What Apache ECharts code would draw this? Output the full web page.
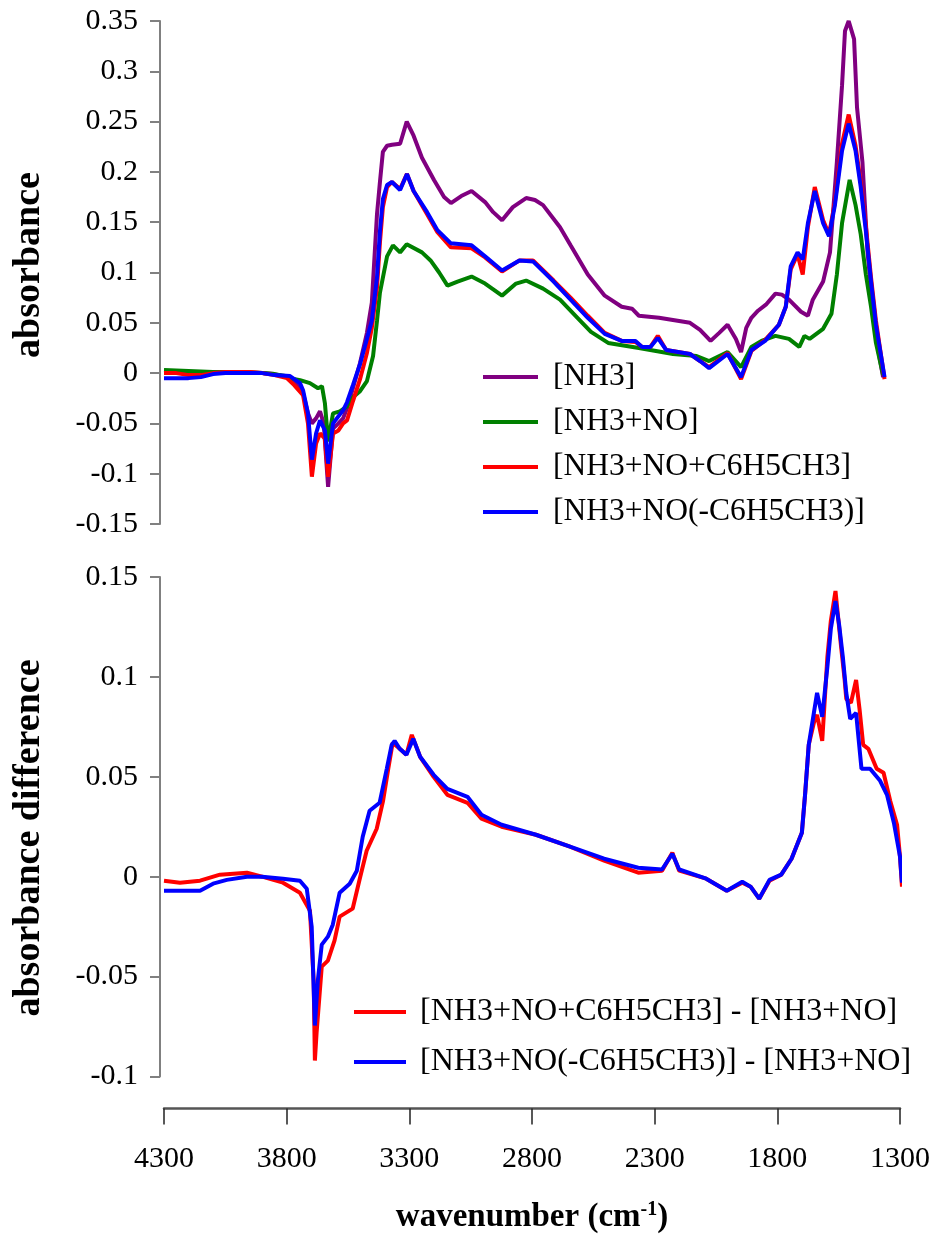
<!DOCTYPE html>
<html>
<head>
<meta charset="utf-8">
<script src="https://cdn.jsdelivr.net/npm/echarts@6/dist/echarts.min.js"></script>
<style>html,body{margin:0;padding:0;background:#fff}#c{width:933px;height:1235px}</style>
</head>
<body>
<div id="c"></div>
<script>
// ---- Top panel data (wavenumber, absorbance) ----
const nh3Wn  = [4300,4200,4100,4000,3900,3850,3800,3770,3734,3714,3698,3681,3665,3650,3632,3612,3590,3571,3555,3531,3502,3474,3454,3433,3421,3409,3392,3372,3339,3312,3284,3250,3201,3160,3132,3090,3048,2993,2960,2924,2880,2826,2790,2757,2688,2645,2575,2506,2437,2395,2367,2285,2159,2118,2075,2040,2006,1972,1951,1930,1909,1882,1850,1811,1785,1756,1707,1679,1659,1617,1589,1561,1540,1528,1513,1491,1479,1457,1436,1415,1395,1373];
const nh3Abs = [0,0,0.001,0.001,0,-0.001,-0.004,-0.008,-0.02,-0.04,-0.05,-0.045,-0.038,-0.05,-0.113,-0.055,-0.05,-0.045,-0.035,-0.015,0.01,0.04,0.07,0.158,0.19,0.22,0.226,0.227,0.228,0.25,0.236,0.214,0.192,0.175,0.169,0.176,0.181,0.17,0.16,0.152,0.165,0.174,0.172,0.167,0.145,0.127,0.098,0.077,0.066,0.064,0.057,0.055,0.05,0.043,0.032,0.04,0.048,0.034,0.021,0.045,0.055,0.062,0.068,0.079,0.078,0.073,0.061,0.057,0.073,0.091,0.12,0.21,0.286,0.34,0.35,0.332,0.264,0.21,0.12,0.066,0.026,-0.004];

const noWn  = [4300,4200,4100,4000,3900,3850,3800,3787,3746,3706,3673,3657,3645,3632,3612,3584,3555,3531,3502,3474,3449,3433,3421,3392,3368,3339,3312,3250,3215,3180,3146,3105,3048,2993,2924,2867,2826,2757,2688,2617,2562,2492,2367,2228,2132,2081,2006,1951,1909,1868,1811,1756,1714,1693,1672,1617,1583,1561,1540,1509,1485,1464,1443,1422,1402,1373];
const noAbs = [0.003,0.002,0.001,0.001,0,-0.001,-0.003,-0.005,-0.007,-0.01,-0.015,-0.013,-0.03,-0.068,-0.04,-0.038,-0.033,-0.024,-0.018,-0.008,0.017,0.052,0.08,0.116,0.127,0.12,0.128,0.12,0.112,0.1,0.087,0.091,0.096,0.089,0.077,0.089,0.092,0.084,0.073,0.055,0.041,0.03,0.025,0.019,0.017,0.012,0.021,0.006,0.026,0.032,0.037,0.034,0.026,0.037,0.034,0.044,0.059,0.098,0.149,0.192,0.167,0.138,0.098,0.066,0.03,-0.002];

const tolWn  = [4300,4250,4200,4150,4100,4050,3950,3900,3850,3800,3770,3734,3714,3698,3681,3665,3645,3632,3612,3590,3571,3555,3531,3502,3474,3454,3433,3421,3409,3392,3372,3339,3311,3284,3229,3187,3132,3048,2993,2924,2853,2798,2714,2645,2575,2506,2437,2381,2354,2320,2290,2256,2159,2118,2081,2006,1951,1909,1853,1797,1769,1749,1721,1700,1679,1651,1617,1593,1569,1540,1513,1485,1464,1443,1422,1402,1367];
const tolAbs = [0,0,-0.002,-0.002,0,0.001,0.001,0,-0.002,-0.005,-0.012,-0.022,-0.05,-0.103,-0.07,-0.06,-0.065,-0.103,-0.06,-0.057,-0.05,-0.047,-0.028,-0.006,0.02,0.045,0.085,0.13,0.165,0.185,0.19,0.183,0.198,0.181,0.158,0.14,0.125,0.124,0.115,0.101,0.112,0.112,0.092,0.075,0.057,0.04,0.032,0.031,0.026,0.026,0.037,0.023,0.019,0.012,0.006,0.02,-0.006,0.022,0.033,0.048,0.066,0.103,0.118,0.098,0.145,0.185,0.152,0.138,0.17,0.228,0.257,0.226,0.19,0.146,0.095,0.052,-0.006];

const noTolWn  = [4300,4200,4150,4100,4050,3950,3900,3850,3787,3746,3734,3714,3698,3681,3665,3645,3632,3612,3571,3555,3531,3502,3474,3454,3433,3421,3409,3392,3372,3339,3311,3284,3229,3187,3132,3048,2993,2924,2853,2798,2714,2645,2575,2506,2437,2381,2354,2320,2290,2256,2159,2118,2081,2006,1951,1909,1853,1797,1769,1749,1721,1700,1679,1651,1617,1593,1569,1540,1513,1485,1464,1443,1422,1402,1367];
const noTolAbs = [-0.005,-0.005,-0.004,-0.001,0,0,0,-0.002,-0.003,-0.01,-0.017,-0.04,-0.086,-0.06,-0.047,-0.057,-0.09,-0.05,-0.037,-0.029,-0.012,0.009,0.034,0.052,0.095,0.141,0.173,0.187,0.19,0.182,0.198,0.181,0.16,0.142,0.129,0.127,0.116,0.102,0.112,0.111,0.091,0.073,0.055,0.039,0.032,0.032,0.026,0.026,0.035,0.023,0.019,0.012,0.005,0.019,-0.004,0.023,0.032,0.048,0.066,0.106,0.12,0.113,0.149,0.181,0.149,0.136,0.167,0.221,0.248,0.221,0.185,0.141,0.091,0.048,-0.004];

// ---- Bottom panel data (wavenumber, absorbance difference) ----
const diffTolWn  = [4300,4235,4153,4072,3962,3900,3815,3746,3705,3690,3685,3678,3657,3632,3605,3584,3531,3502,3474,3433,3407,3386,3368,3339,3312,3290,3256,3201,3145,3063,3006,2924,2784,2645,2506,2367,2270,2228,2200,2090,2006,1943,1909,1874,1832,1784,1742,1700,1687,1672,1651,1638,1617,1596,1582,1563,1540,1526,1519,1500,1479,1465,1450,1429,1395,1367,1340,1312,1300,1292];
const diffTolVal = [-0.002,-0.003,-0.002,0.001,0.002,0,-0.003,-0.008,-0.017,-0.052,-0.092,-0.078,-0.045,-0.042,-0.032,-0.02,-0.016,-0.001,0.013,0.024,0.038,0.054,0.067,0.064,0.061,0.071,0.06,0.05,0.041,0.037,0.029,0.025,0.021,0.015,0.008,0.002,0.003,0.012,0.003,-0.001,-0.007,-0.003,-0.005,-0.011,-0.002,0.001,0.009,0.022,0.041,0.066,0.077,0.081,0.068,0.11,0.128,0.143,0.115,0.099,0.089,0.087,0.0985,0.084,0.066,0.064,0.054,0.052,0.038,0.026,0.01,-0.005];

const diffNoTolWn  = [4300,4235,4153,4100,4044,3962,3900,3815,3746,3718,3698,3685,3673,3657,3632,3612,3584,3543,3514,3490,3462,3421,3392,3372,3360,3339,3312,3284,3256,3201,3145,3063,3006,2924,2784,2645,2506,2367,2270,2228,2200,2090,2006,1943,1909,1874,1832,1784,1742,1700,1687,1672,1651,1638,1617,1596,1582,1563,1548,1533,1519,1503,1479,1457,1422,1381,1353,1325,1300,1292];
const diffNoTolVal = [-0.007,-0.007,-0.007,-0.0035,-0.0016,0,0,-0.001,-0.002,-0.006,-0.025,-0.0745,-0.052,-0.034,-0.03,-0.024,-0.008,-0.0035,0.003,0.02,0.033,0.037,0.054,0.066,0.068,0.064,0.061,0.069,0.06,0.051,0.044,0.04,0.031,0.026,0.021,0.015,0.009,0.0045,0.0036,0.0115,0.0036,-0.001,-0.007,-0.0025,-0.005,-0.011,-0.0016,0.001,0.009,0.022,0.041,0.066,0.082,0.092,0.08,0.105,0.124,0.138,0.126,0.11,0.092,0.079,0.082,0.054,0.054,0.048,0.041,0.027,0.01,-0.003];

// ---- Labels ----
const topNames = ['[NH3]', '[NH3+NO]', '[NH3+NO+C6H5CH3]', '[NH3+NO(-C6H5CH3)]'];
const bottomNames = ['[NH3+NO+C6H5CH3] - [NH3+NO]', '[NH3+NO(-C6H5CH3)] - [NH3+NO]'];
const topColors = ['#800080', '#008000', '#ff0000', '#0000ff'];
const bottomColors = ['#ff0000', '#0000ff'];
const xTicks = { min: 1300, max: 4300, step: 500 };
const yTopTicks = { min: -0.15, max: 0.35, step: 0.05 };
const yBotTicks = { min: -0.1, max: 0.15, step: 0.05 };

const zip = (a, b) => a.map((v, i) => [v, b[i]]);
const FONT = '"Liberation Serif", "Times New Roman", serif';
const fmt = v => String(+v.toFixed(2));

const topData = [zip(nh3Wn, nh3Abs), zip(noWn, noAbs), zip(tolWn, tolAbs), zip(noTolWn, noTolAbs)];
const botData = [zip(diffTolWn, diffTolVal), zip(diffNoTolWn, diffNoTolVal)];

const axisGrey = '#808080';
const chart = echarts.init(document.getElementById('c'), null, { renderer: 'canvas' });

const yAxisCommon = {
  type: 'value', offset: 4,
  axisLine: { show: true, onZero: false, lineStyle: { color: axisGrey, width: 2 } },
  axisTick: { show: true, length: 10, lineStyle: { color: axisGrey, width: 2 } },
  splitLine: { show: false },
  axisLabel: { color: '#000', fontFamily: FONT, fontSize: 30, margin: 22, formatter: fmt }
};

const series = [];
topData.forEach((d, i) => series.push({
  name: topNames[i], type: 'line', xAxisIndex: 0, yAxisIndex: 0, data: d,
  symbol: 'none', clip: false, lineStyle: { color: topColors[i], width: 4 }, itemStyle: { color: topColors[i] }
}));
botData.forEach((d, i) => series.push({
  name: bottomNames[i], type: 'line', xAxisIndex: 1, yAxisIndex: 1, data: d,
  symbol: 'none', clip: false, lineStyle: { color: bottomColors[i], width: 4 }, itemStyle: { color: bottomColors[i] }
}));

chart.setOption({
  animation: false,
  backgroundColor: '#fff',
  grid: [
    { left: 164, top: 21, width: 737, height: 503 },
    { left: 164, top: 577, width: 737, height: 508 }
  ],
  xAxis: [
    { type: 'value', gridIndex: 0, min: xTicks.min, max: xTicks.max, inverse: true, show: false },
    { type: 'value', gridIndex: 1, min: xTicks.min, max: xTicks.max, interval: xTicks.step, inverse: true,
      position: 'bottom', offset: 32,
      axisLine: { show: true, onZero: false, lineStyle: { color: '#555', width: 2.5 } },
      axisTick: { show: true, inside: false, length: 16, lineStyle: { color: '#222', width: 1.5 } },
      splitLine: { show: false },
      axisLabel: { color: '#000', fontFamily: FONT, fontSize: 30, margin: 36, formatter: v => String(v) },
      name: '{a|wavenumber (cm}{b|-1}{a|)}', nameLocation: 'middle', nameGap: 91,
      nameTextStyle: { rich: {
        a: { fontFamily: FONT, fontWeight: 'bold', fontSize: 33, color: '#000', lineHeight: 36 },
        b: { fontFamily: FONT, fontWeight: 'bold', fontSize: 20, color: '#000', verticalAlign: 'top', lineHeight: 36, padding: [0, 0, 14, 0] }
      } }
    }
  ],
  yAxis: [
    Object.assign({}, yAxisCommon, { gridIndex: 0, min: yTopTicks.min, max: yTopTicks.max, interval: yTopTicks.step }),
    Object.assign({}, yAxisCommon, { gridIndex: 1, min: yBotTicks.min, max: yBotTicks.max, interval: yBotTicks.step })
  ],
  legend: [
    { data: topNames, orient: 'vertical', left: 478, top: 356, itemGap: 13, itemWidth: 55, itemHeight: 4,
      icon: 'rect', selectedMode: false,
      textStyle: { fontFamily: FONT, fontSize: 31.5, color: '#000', lineHeight: 30, padding: [0, 0, 0, 10] } },
    { data: bottomNames, orient: 'vertical', left: 349, top: 991, itemGap: 18, itemWidth: 52, itemHeight: 4,
      icon: 'rect', selectedMode: false,
      textStyle: { fontFamily: FONT, fontSize: 32, color: '#000', lineHeight: 30, padding: [0, 0, 0, 9] } }
  ],
  graphic: [
    { type: 'text', x: 29, y: 265, rotation: Math.PI / 2,
      style: { text: 'absorbance', font: 'bold 38px ' + FONT, fill: '#000', align: 'center', verticalAlign: 'middle' } },
    { type: 'text', x: 29, y: 838, rotation: Math.PI / 2,
      style: { text: 'absorbance difference', font: 'bold 38px ' + FONT, fill: '#000', align: 'center', verticalAlign: 'middle' } }
  ],
  series: series
});
</script>
</body>
</html>
